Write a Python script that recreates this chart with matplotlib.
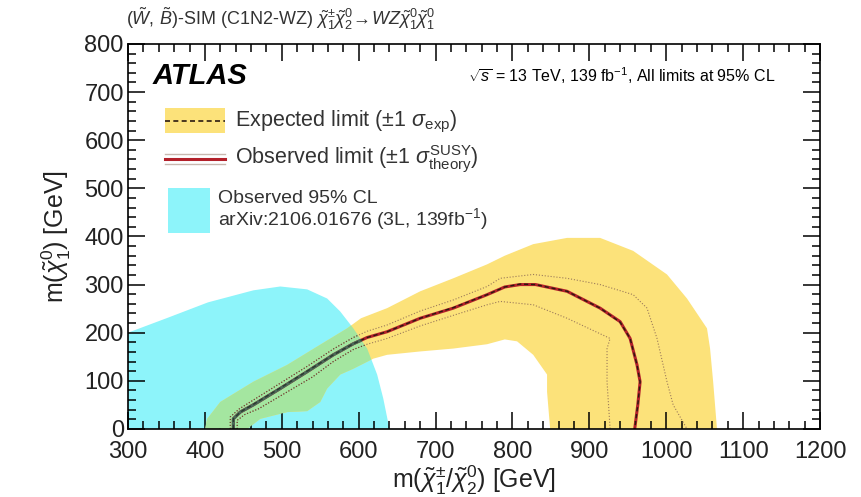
import matplotlib
matplotlib.use("Agg")
import matplotlib.pyplot as plt
from matplotlib.patches import Polygon, Rectangle
from matplotlib.ticker import MultipleLocator

plt.rcParams['font.family'] = ['Liberation Sans', 'DejaVu Sans']
plt.rcParams['mathtext.fontset'] = 'custom'
plt.rcParams['mathtext.rm'] = 'Liberation Sans'
plt.rcParams['mathtext.it'] = 'Liberation Sans:italic'
plt.rcParams['mathtext.bf'] = 'Liberation Sans:bold'

# --- 3L observed contour (arXiv:2106.01676)
cyan_x = [300, 300, 350, 404, 463, 498, 533, 559, 576, 593, 611, 624, 632, 640]
cyan_y = [0, 200, 230, 263, 288, 296, 290, 271, 244, 209, 167, 113, 63, 0]

# --- expected +-1 sigma band: outer edge then inner edge
band_out_x = [400, 403, 420, 463, 507, 550, 585, 603, 637, 680, 723, 767, 790, 827, 871,
              914, 957, 1001, 1027, 1053, 1057, 1061, 1066]
band_out_y = [0, 21, 56, 98, 133, 175, 209, 230, 251, 286, 313, 342, 360, 384, 397,
              397, 370, 321, 271, 209, 167, 98, 0]
band_in_x = [849, 845, 845, 827, 806, 790, 767, 723, 680, 637, 619, 593, 576, 559, 550,
             533, 507, 472, 455]
band_in_y = [0, 77, 113, 154, 182, 186, 176, 167, 161, 154, 146, 125, 113, 84, 56,
             37, 35, 21, 0]

# --- expected limit
exp_x = [437, 437, 446, 463, 498, 533, 567, 593, 611, 637, 680, 723, 767, 790, 810, 830,
         871, 914, 940, 953, 962, 966, 963, 959]
exp_y = [0, 21, 35, 51, 85, 120, 154, 177, 190, 202, 230, 252, 279, 295, 301, 300,
         286, 251, 222, 188, 133, 98, 50, 0]

# --- observed limit and theory variations
obs_x = [437, 437, 446, 463, 498, 533, 567, 593, 611, 637, 680, 723, 767, 790, 810, 830,
         871, 914, 940, 953, 962, 966, 963, 959]
obs_y = [0, 21, 35, 50, 84, 119, 154, 177, 190, 202, 230, 251, 279, 295, 300, 300,
         286, 251, 223, 188, 133, 98, 50, 0]
obs_up_x = [433, 433, 445, 463, 498, 533, 567, 593, 611, 637, 680, 723, 767, 784, 827,
            871, 914, 957, 975, 988, 1001, 1009, 1027]
obs_up_y = [0, 25, 42, 60, 95, 130, 166, 190, 203, 216, 245, 268, 296, 313, 321,
            313, 300, 279, 251, 188, 98, 50, 0]
obs_dn_x = [442, 442, 452, 470, 505, 540, 567, 593, 611, 637, 680, 723, 767, 784, 827,
            871, 927, 923, 923, 927]
obs_dn_y = [0, 18, 30, 42, 75, 108, 140, 165, 176, 188, 214, 236, 258, 265, 258,
            230, 188, 167, 98, 0]

yellow = '#fce27a'
cyan = '#8df4fa'
green = '#a4e6a0'
red = '#b3202a'

fig = plt.figure(figsize=(8.61, 4.97), dpi=100)
ax = fig.add_axes([0.1487, 0.137, 0.8037, 0.7745])

cyan_patch = Polygon(list(zip(cyan_x, cyan_y)), closed=True, fc=cyan, ec='none', zorder=1)
ax.add_patch(cyan_patch)

band_pts = list(zip(band_out_x + band_in_x, band_out_y + band_in_y))
ax.add_patch(Polygon(band_pts, closed=True, fc=yellow, ec='none', zorder=1.5))
green_band = Polygon(band_pts, closed=True, fc=green, ec='none', zorder=2)
ax.add_patch(green_band)
green_band.set_clip_path(cyan_patch)

# lines, then darker copies inside the 3L region
for clip in (False, True):
    z = 4 if clip else 3
    arts = []
    arts += ax.plot(obs_up_x, obs_up_y, color='#6a4030' if clip else '#9c7a5a', lw=0.8, ls=':', zorder=z)
    arts += ax.plot(obs_dn_x, obs_dn_y, color='#6a4030' if clip else '#9c7a5a', lw=0.8, ls=':', zorder=z)
    arts += ax.plot(obs_x, obs_y, color='#4a6a58' if clip else red, lw=2.2, zorder=z)
    arts += ax.plot(exp_x, exp_y, color='#2a3a30' if clip else '#2a1a10', lw=1.0, ls=(0, (3, 2)), zorder=z + 0.1)
    if clip:
        for a in arts:
            a.set_clip_path(cyan_patch)

ax.set_xlim(300, 1200)
ax.set_ylim(0, 800)
ax.xaxis.set_major_locator(MultipleLocator(100))
ax.xaxis.set_minor_locator(MultipleLocator(20))
ax.yaxis.set_major_locator(MultipleLocator(100))
ax.yaxis.set_minor_locator(MultipleLocator(20))
ax.tick_params(which='both', direction='in', top=True, right=True, labelsize=17, width=1.1,
               labelcolor='#222222')
ax.tick_params(which='major', length=12)
ax.tick_params(which='minor', length=6)
ax.tick_params(axis='x', pad=9)
ax.tick_params(axis='y', pad=3)
for s in ax.spines.values():
    s.set_linewidth(1.2)
    s.set_zorder(10)

ax.set_xlabel(r'm($\tilde{\chi}_1^{\pm}/\tilde{\chi}_2^{0}$) [GeV]', fontsize=18, labelpad=0,
              color='#222222')
ax.set_ylabel(r'm($\tilde{\chi}_1^{0}$) [GeV]', fontsize=18, labelpad=8, color='#222222')

fig.text(0.146, 0.962,
         r'$(\tilde{W},\,\tilde{B})$-SIM (C1N2-WZ) $\tilde{\chi}_1^{\pm}\tilde{\chi}_2^{0}\!\rightarrow\!WZ\tilde{\chi}_1^{0}\tilde{\chi}_1^{0}$',
         fontsize=13, color='#333333', va='center', ha='left')

ax.text(0.035, 0.917, 'ATLAS', transform=ax.transAxes, fontsize=21, fontweight='bold',
        fontstyle='italic', va='center', ha='left')
ax.text(0.935, 0.917, r'$\sqrt{s}$ = 13 TeV, 139 fb$^{-1}$, All limits at 95% CL',
        transform=ax.transAxes, fontsize=11.5, va='center', ha='right')

# legend
ax.add_patch(Rectangle((0.0535, 0.768), 0.0865, 0.065, transform=ax.transAxes, fc=yellow, ec='none', zorder=5))
ax.plot([0.0535, 0.14], [0.800, 0.800], transform=ax.transAxes, color='#2a1a10', lw=1.2,
        ls=(0, (3, 2)), zorder=6)
ax.text(0.155, 0.797, r'Expected limit ($\pm$1 $\sigma_{\mathrm{exp}}$)', transform=ax.transAxes,
        fontsize=15.5, va='center', ha='left', color='#333333')

ax.plot([0.0535, 0.14], [0.715, 0.715], transform=ax.transAxes, color='#c8b8b0', lw=1.0, zorder=6)
ax.plot([0.0535, 0.14], [0.702, 0.702], transform=ax.transAxes, color=red, lw=2.2, zorder=6)
ax.plot([0.0535, 0.14], [0.689, 0.689], transform=ax.transAxes, color='#c8b8b0', lw=1.0, zorder=6)
ax.text(0.155, 0.700, r'Observed limit ($\pm$1 $\sigma_{\mathrm{theory}}^{\mathrm{SUSY}}$)',
        transform=ax.transAxes, fontsize=15.5, va='center', ha='left', color='#333333')

ax.add_patch(Rectangle((0.058, 0.509), 0.06, 0.118, transform=ax.transAxes, fc=cyan, ec='none', zorder=5))
ax.text(0.130, 0.598, 'Observed 95% CL', transform=ax.transAxes, fontsize=14,
        va='center', ha='left', color='#333333')
ax.text(0.130, 0.546, r'arXiv:2106.01676 (3L, 139fb$^{-1}$)', transform=ax.transAxes,
        fontsize=14, va='center', ha='left', color='#333333')

fig.savefig('out.png', dpi=100)
